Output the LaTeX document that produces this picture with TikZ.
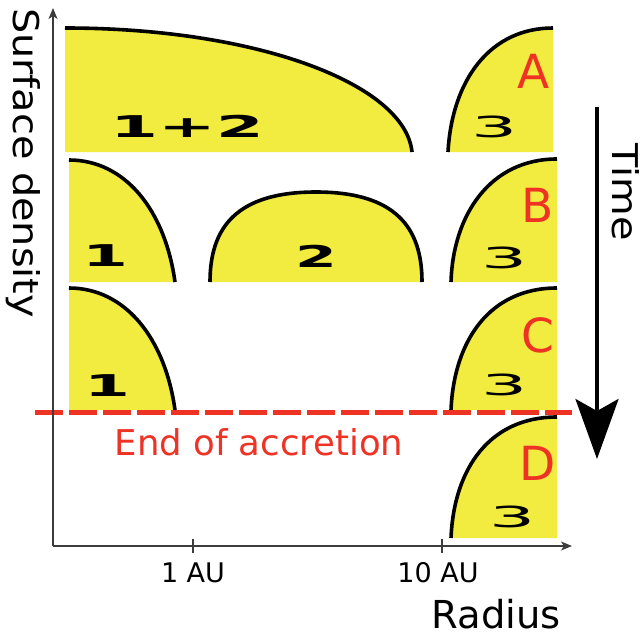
\documentclass[tikz,border=0pt]{standalone}
\usepackage{fontspec}
\setmainfont{DejaVu Sans}
\usetikzlibrary{arrows.meta}
\definecolor{yel}{RGB}{242,235,64}
\definecolor{rd}{RGB}{238,50,36}
\definecolor{axis}{RGB}{60,60,60}
\tikzset{
  disc/.style={fill=yel},
  edge/.style={line width=3.6pt, line cap=butt},
  boldnum/.style={inner sep=0pt, font=\fontsize{30}{30}\selectfont\bfseries},
  thinnum/.style={inner sep=0pt, font=\fontsize{29}{29}\selectfont},
  stage/.style={inner sep=0pt, text=rd, font=\fontsize{47}{47}\selectfont},
  axlabel/.style={inner sep=0pt, font=\fontsize{35.5}{36}\selectfont},
  ticklabel/.style={inner sep=0pt, anchor=base, font=\fontsize{27}{27}\selectfont},
  axisline/.style={draw=axis, line width=1.3pt},
}
\begin{document}
\begin{tikzpicture}[x=1pt,y=-1pt]
\useasboundingbox (0,0) rectangle (643,637);

% ---------- Stage A ----------
\fill[disc] (65,152) -- (65,28) .. controls (257,28) and (405,84) .. (412,152) -- cycle;
\draw[edge] (65,28) .. controls (257,28) and (405,84) .. (412,152);
\fill[disc] (553,152) -- (553,28) .. controls (490,28) and (452,80) .. (448,152) -- cycle;
\draw[edge] (553,28) .. controls (490,28) and (452,80) .. (448,152);

% ---------- Stage B ----------
\fill[disc] (69,282) -- (69,160) .. controls (125,160) and (165,210) .. (175,282) -- cycle;
\draw[edge] (69,160) .. controls (125,160) and (165,210) .. (175,282);
\fill[disc] (210,282) .. controls (210,228) and (236,192) .. (316,192)
  .. controls (396,192) and (422,228) .. (422,282) -- cycle;
\draw[edge] (210,282) .. controls (210,228) and (236,192) .. (316,192)
  .. controls (396,192) and (422,228) .. (422,282);
\fill[disc] (557,282) -- (557,159) .. controls (490,159) and (453,215) .. (451,282) -- cycle;
\draw[edge] (557,159) .. controls (490,159) and (453,215) .. (451,282);

% ---------- Stage C ----------
\fill[disc] (69,410) -- (69,288) .. controls (125,288) and (165,338) .. (175,410) -- cycle;
\draw[edge] (69,288) .. controls (125,288) and (165,338) .. (175,410);
\fill[disc] (557,410) -- (557,288) .. controls (490,288) and (454,340) .. (451,410) -- cycle;
\draw[edge] (557,288) .. controls (490,288) and (454,340) .. (451,410);

% ---------- Stage D ----------
\fill[disc] (557,538) -- (557,417) .. controls (490,417) and (454,468) .. (451,538) -- cycle;
\draw[edge] (557,417) .. controls (490,417) and (454,468) .. (451,538);

% ---------- end of accretion ----------
\coordinate (eaL) at (35,412);
\coordinate (eaR) at (572,412);
\draw[rd, line width=5pt, dash pattern=on 28pt off 6pt] (eaL) -- (eaR);
\node[inner sep=0pt, anchor=base, text=rd, font=\fontsize{35.5}{36}\selectfont] (eoa) at (259,455) {End of accretion};

% ---------- axes ----------
\coordinate (O) at (53,546);
\coordinate (ytop) at (53,8);
\coordinate (xend) at (572,546);
\draw[axisline, -{Stealth[length=11pt,width=9pt,inset=3pt]}] (O) -- (ytop);
\draw[axisline, -{Stealth[length=11pt,width=9pt,inset=3pt]}] (O) -- (xend);
\coordinate (t1a) at (193,539); \coordinate (t1b) at (193,553);
\coordinate (t2a) at (442,539); \coordinate (t2b) at (442,553);
\draw[axisline] (t1a) -- (t1b);
\draw[axisline] (t2a) -- (t2b);
\node[ticklabel] (l1) at (193,582) {1 AU};
\node[ticklabel] (l10) at (438,582) {10 AU};
\node[inner sep=0pt, anchor=base, font=\fontsize{38.5}{39}\selectfont] (rad) at (496,628) {Radius};
\node[axlabel, rotate=-90, anchor=base west] (sd) at (13,8) {\scalebox{1.12}[1]{Surface density}};

% ---------- time arrow ----------
\coordinate (tA) at (597,107);
\coordinate (tB) at (597,459);
\draw[line width=3.5pt, -{Stealth[length=60pt,width=43pt,inset=12pt]}] (tA) -- (tB);
\node[axlabel, rotate=-90, anchor=base west] (time) at (612,143) {\scalebox{1.12}[1]{Time}};

% ---------- stage letters ----------
\node[stage] (A) at (534,71) {A};
\node[stage] (B) at (538,205) {B};
\node[stage] (C) at (538,335) {C};
\node[stage] (D) at (538,463) {D};

% ---------- component numbers ----------
\node[boldnum] (n12) at (187,126) {\scalebox{2.3}[1]{1+2}};
\node[thinnum] (n3a) at (495,127) {\scalebox{2.5}[1]{3}};
\node[boldnum] (n1b) at (105,256) {\scalebox{2.2}[1]{1}};
\node[boldnum] (n2b) at (316,256) {\scalebox{2.0}[1]{2}};
\node[thinnum] (n3b) at (505,258) {\scalebox{2.5}[1]{3}};
\node[boldnum] (n1c) at (107,386) {\scalebox{2.2}[1]{1}};
\node[thinnum] (n3c) at (505,385) {\scalebox{2.5}[1]{3}};
\node[thinnum] (n3d) at (513,517) {\scalebox{2.5}[1]{3}};
\end{tikzpicture}
\end{document}
